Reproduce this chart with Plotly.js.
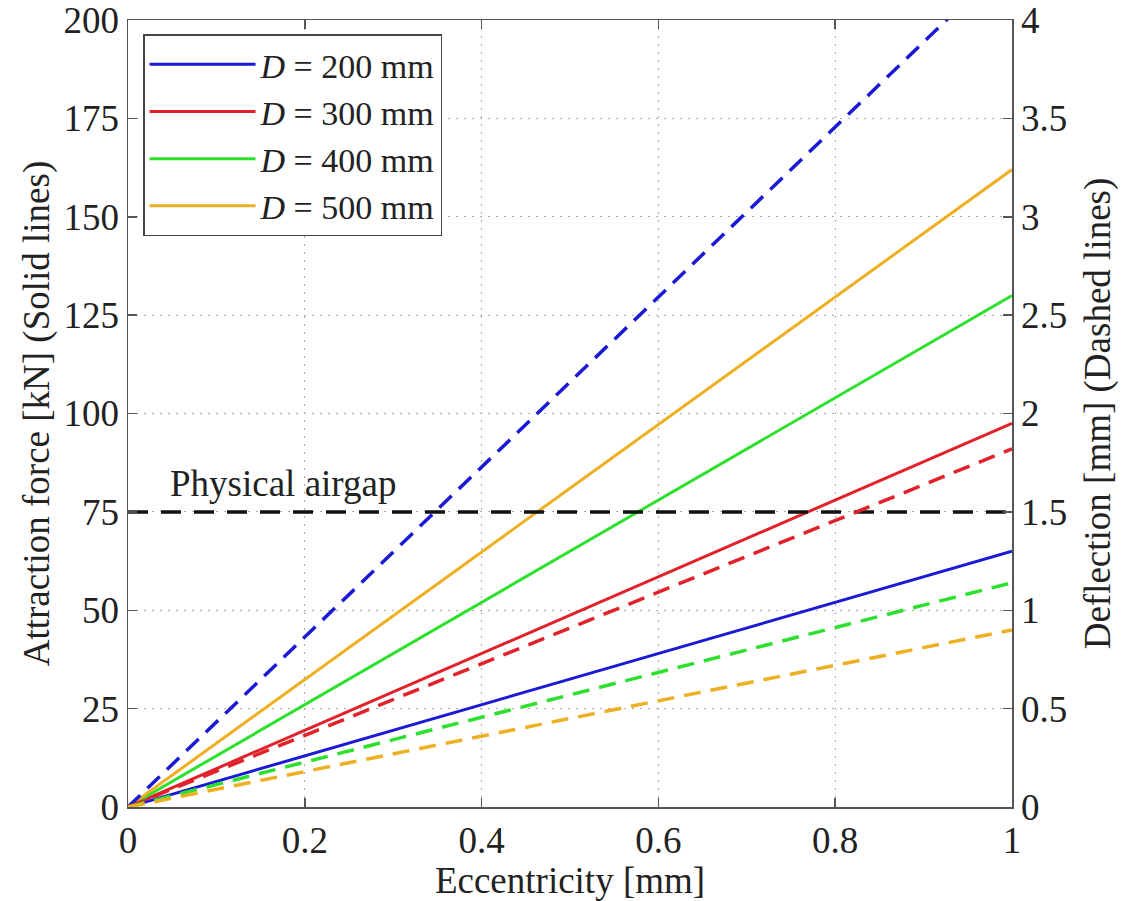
<!DOCTYPE html>
<html>
<head>
<meta charset="utf-8">
<script src="https://cdn.plot.ly/plotly-3.0.1.min.js"></script>
<style>html,body{margin:0;padding:0;background:#fff;}#chart{width:1139px;height:901px;}</style>
</head>
<body>
<div id="chart"></div>
<script>
// Eccentricity [mm]
const eccentricity = [0, 1];
// Attraction force [kN] (solid lines, left axis)
const force200 = [0, 65];
const force300 = [0, 97.5];
const force400 = [0, 130];
const force500 = [0, 162];
// Deflection [mm] (dashed lines, right axis)
const defl200 = [0, 4.32];
const defl300 = [0, 1.82];
const defl400 = [0, 1.14];
const defl500 = [0, 0.9];
// Physical airgap [mm]
const airgapX = [0, 1];
const airgapY = [1.5, 1.5];

const labels = ['<i>D</i> = 200 mm', '<i>D</i> = 300 mm', '<i>D</i> = 400 mm', '<i>D</i> = 500 mm'];
const colors = ['#1a1ad6', '#e2222a', '#2ee02e', '#eeb022'];
const forces = [force200, force300, force400, force500];
const defls = [defl200, defl300, defl400, defl500];

const FONT = '"Liberation Serif", "Times New Roman", serif';
const FS = 37;
const traces = [];

traces.push({
  x: airgapX, y: airgapY, yaxis: 'y2', mode: 'lines', showlegend: false,
  line: {color: '#111', width: 3.5, dash: '20px,13px'}, hoverinfo: 'skip'
});
for (let i = 0; i < 4; i++) {
  traces.push({
    x: eccentricity, y: defls[i], yaxis: 'y2', mode: 'lines', showlegend: false,
    line: {color: colors[i], width: 3.5, dash: '17px,10px'}
  });
}
for (let i = 0; i < 4; i++) {
  traces.push({
    x: eccentricity, y: forces[i], mode: 'lines', name: labels[i],
    line: {color: colors[i], width: 3}
  });
}

const axisCommon = {
  showline: true, linecolor: '#555', linewidth: 1.5,
  ticks: 'inside', ticklen: 9, tickcolor: '#555', tickwidth: 1.5,
  tickfont: {family: FONT, size: FS, color: '#222'},
  ticklabeloverflow: 'allow',
  zeroline: false
};

const layout = {
  width: 1139, height: 901,
  margin: {l: 128, r: 127, t: 20, b: 94},
  paper_bgcolor: '#fff', plot_bgcolor: '#fff',
  font: {family: FONT, size: FS, color: '#222'},
  xaxis: Object.assign({}, axisCommon, {
    range: [0, 1], dtick: 0.2, tick0: 0, mirror: 'ticks',
    showgrid: true, gridcolor: '#aaa', gridwidth: 1, griddash: '2px,6px',
    title: {text: 'Eccentricity [mm]', font: {family: FONT, size: FS, color: '#222'}, standoff: 4}
  }),
  yaxis: Object.assign({}, axisCommon, {
    range: [0, 200], dtick: 25, tick0: 0,
    showgrid: true, gridcolor: '#aaa', gridwidth: 1, griddash: '2px,6px',
    title: {text: 'Attraction force [kN] (Solid lines)', font: {family: FONT, size: FS, color: '#222'}, standoff: 2}
  }),
  yaxis2: Object.assign({}, axisCommon, {
    range: [0, 4], dtick: 0.5, tick0: 0, overlaying: 'y', side: 'right',
    showgrid: false,
    title: {text: 'Deflection [mm] (Dashed lines)', font: {family: FONT, size: FS, color: '#222'}, standoff: 18}
  }),
  legend: {
    x: 0.017, y: 0.982, xanchor: 'left', yanchor: 'top',
    bgcolor: '#fff', bordercolor: '#444', borderwidth: 1.5,
    font: {family: FONT, size: 34, color: '#222'},
    itemwidth: 106, tracegroupgap: 0
  },
  annotations: [{
    x: 0.045, y: 76.5, xref: 'x', yref: 'y', xanchor: 'left', yanchor: 'bottom',
    text: 'Physical airgap', showarrow: false,
    font: {family: FONT, size: FS, color: '#222'}
  }],
  showlegend: true
};

Plotly.newPlot('chart', traces, layout, {displayModeBar: false, staticPlot: true});
</script>
</body>
</html>
